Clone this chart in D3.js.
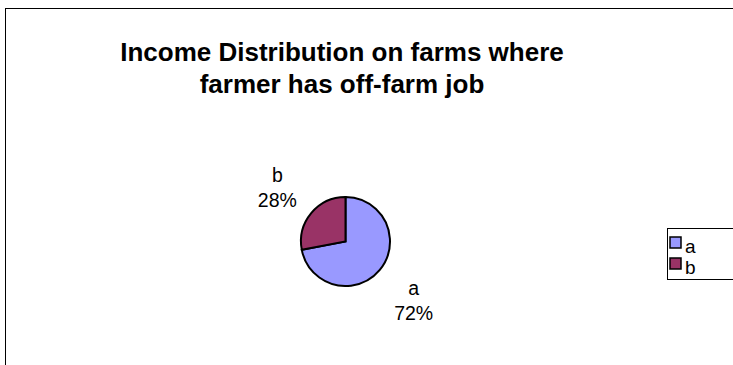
<!DOCTYPE html>
<html><head><meta charset="utf-8">
<script src="https://cdn.jsdelivr.net/npm/d3@7"></script>
<style>body{margin:0;background:#fff}svg{display:block}</style>
</head><body>
<svg id="chart" width="733" height="365"></svg>
<script>
const categories = ["a", "b"];
const values = [72, 28];
const colors = ["#9999FF", "#993366"];
const titleLines = ["Income Distribution on farms where", "farmer has off-farm job"];

const svg = d3.select("#chart");
svg.append("rect").attr("x", 5.5).attr("y", 8.5).attr("width", 740).attr("height", 370)
  .attr("fill", "#fff").attr("stroke", "#000").attr("stroke-width", 1);

const title = svg.append("text").attr("font-family", "Liberation Sans, Arial, sans-serif")
  .attr("font-weight", "bold").attr("font-size", 26).attr("text-anchor", "middle");
titleLines.forEach((t, i) => title.append("tspan").attr("x", 342).attr("y", 61 + i * 32).text(t));

const cx = 345.5, cy = 241.5, r = 44.5;
const pie = d3.pie().sort(null).value(d => d)(values);
const arc = d3.arc().innerRadius(0).outerRadius(r);
const g = svg.append("g").attr("transform", `translate(${cx},${cy})`);
g.selectAll("path").data(pie).join("path").attr("d", arc)
  .attr("fill", (d, i) => colors[i]).attr("stroke", "#000").attr("stroke-width", 2);

const total = d3.sum(values);
const labelArc = d3.arc().innerRadius(r + 44).outerRadius(r + 44);
pie.forEach((d, i) => {
  const [x, y] = labelArc.centroid(d);
  const t = g.append("text").attr("font-family", "Liberation Sans, Arial, sans-serif")
    .attr("font-size", 19.5).attr("text-anchor", "middle");
  t.append("tspan").attr("x", x).attr("y", y - 3).text(categories[i]);
  t.append("tspan").attr("x", x).attr("y", y + 22).text(Math.round(values[i] / total * 100) + "%");
});

const lg = svg.append("g");
lg.append("rect").attr("x", 667.5).attr("y", 228.5).attr("width", 80).attr("height", 51)
  .attr("fill", "#fff").attr("stroke", "#000").attr("stroke-width", 1);
categories.forEach((c, i) => {
  lg.append("rect").attr("x", 670).attr("y", 237 + i * 21).attr("width", 11).attr("height", 11)
    .attr("fill", colors[i]).attr("stroke", "#000").attr("stroke-width", 1.5);
  lg.append("text").attr("x", 685).attr("y", 253 + i * 21)
    .attr("font-family", "Liberation Sans, Arial, sans-serif").attr("font-size", 19).text(c);
});
</script>
</body></html>
